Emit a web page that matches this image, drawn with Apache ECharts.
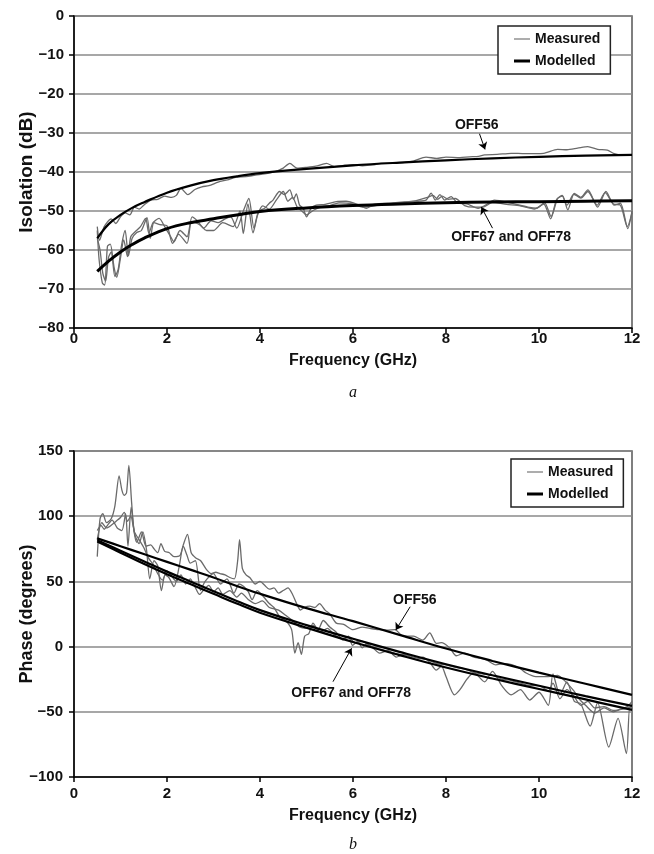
<!DOCTYPE html>
<html><head><meta charset="utf-8">
<script src="https://cdn.jsdelivr.net/npm/echarts@6/dist/echarts.min.js"></script>
<style>html,body{margin:0;padding:0;background:#fff}#c{width:654px;height:854px}</style>
</head><body><div id="c"></div>
<script>
// ---------- Data: (a) Isolation ----------
const xTicks = [0, 2, 4, 6, 8, 10, 12];

const topModF = [0.5,0.75,1,1.25,1.5,2,2.5,3,3.5,4,5,6,7,8,9,10,11,12];
const topMod56 = [-57,-53.3,-51,-49.2,-47.8,-45.3,-43.5,-42.1,-41.1,-40.3,-39.2,-38.3,-37.6,-37.0,-36.5,-36.1,-35.8,-35.6];
const topMod6778 = [-65.5,-62.8,-60.5,-58.6,-57,-54.5,-53,-52,-51,-50.1,-49.2,-48.6,-48.2,-47.9,-47.7,-47.6,-47.5,-47.4];

const topM56F = [0.5,0.55,0.65,0.8,0.9,1.0,1.1,1.2,1.3,1.4,1.5,1.65,1.8,1.95,2.1,2.2,2.3,2.45,2.6,2.75,2.9,3.1,3.3,3.5,3.7,3.9,4.1,4.3,4.5,4.64,4.8,5.0,5.2,5.43,5.6,5.8,6.0,6.2,6.43,6.6,6.8,7.07,7.3,7.57,7.8,8.0,8.3,8.5,8.7,8.83,9.1,9.4,9.7,10.1,10.4,10.6,10.83,11.05,11.26,11.47,11.6,11.8,12];
const topM56 = [-54,-57.5,-54,-52,-53.2,-51.5,-50.5,-51,-49,-49.5,-48.5,-47.2,-47,-46.2,-46.5,-46,-44.2,-45.8,-44.5,-43.8,-43.5,-42.6,-42,-41.3,-41.2,-40.8,-40.5,-40,-39,-37.8,-39,-38.8,-38.5,-37.8,-38.6,-38.3,-38.1,-38.4,-38.2,-37.8,-37.8,-37.6,-37.2,-36.2,-36.5,-36.2,-36.3,-36.1,-36,-35.6,-35.5,-35.2,-35.3,-35.2,-34.2,-34.3,-33.9,-33.5,-34.2,-34.4,-35.2,-35.6,-35.6];

const topM67F = [0.5,0.54,0.61,0.66,0.72,0.78,0.86,0.92,1.0,1.07,1.15,1.22,1.3,1.43,1.54,1.61,1.7,1.83,1.95,2.08,2.15,2.28,2.43,2.54,2.65,2.79,2.95,3.1,3.25,3.37,3.5,3.65,3.76,3.87,3.97,4.1,4.2,4.28,4.42,4.52,4.64,4.72,4.78,4.85,4.93,5.0,5.1,5.21,5.4,5.64,5.85,6.14,6.29,6.45,6.86,7.2,7.57,7.68,7.77,7.87,7.97,8.11,8.25,8.45,8.69,8.85,9.04,9.4,9.76,9.95,10.12,10.26,10.4,10.5,10.62,10.76,10.9,11.05,11.26,11.44,11.62,11.75,11.91,12];
const topM67 = [-55,-62.5,-68.5,-69,-59,-58.5,-64.3,-67,-62,-57.4,-61.7,-56.6,-55.5,-54,-51.9,-55.7,-53,-51.9,-54,-56.6,-57.9,-55,-56.6,-51.5,-52.5,-54.4,-52.5,-53,-52,-51.5,-54.4,-49.7,-46.8,-54.4,-50,-49.3,-48,-47.2,-45,-45.8,-44.6,-47,-45.6,-48.5,-49.3,-51.5,-49.3,-48.5,-48.3,-47.6,-47.5,-48.5,-49.3,-48.3,-47.9,-47.6,-47.2,-45.4,-47.2,-45.8,-47.2,-46.3,-48,-48.2,-49.3,-48.5,-47.2,-48,-49,-49.3,-47.9,-51.4,-46.8,-46,-49.7,-45.5,-46.5,-44.6,-49,-45,-48.5,-48,-54.5,-50];

const topM78F = [0.5,0.56,0.62,0.68,0.74,0.8,0.88,0.95,1.02,1.1,1.17,1.25,1.35,1.45,1.57,1.64,1.72,1.85,2.0,2.12,2.25,2.43,2.53,2.7,2.85,3.0,3.2,3.42,3.57,3.64,3.74,3.85,3.95,4.06,4.2,4.36,4.5,4.6,4.7,4.8,4.9,5.0,5.15,5.3,5.5,5.7,6.0,6.2,6.4,6.7,7.0,7.3,7.6,7.72,7.82,7.92,8.05,8.2,8.4,8.6,8.8,9.0,9.3,9.6,9.9,10.1,10.25,10.38,10.5,10.6,10.75,10.9,11.05,11.25,11.42,11.6,11.75,11.9,12];
const topM78 = [-57,-60,-66,-68,-62,-60.5,-66.8,-65,-59,-55,-61.5,-57,-55.5,-55,-51.7,-57,-53,-53.5,-53.8,-58.3,-56,-58.3,-52.7,-53.5,-55,-55,-53,-54,-50,-55.8,-48.2,-55.6,-51,-48.7,-49.5,-47,-45,-47.5,-46.5,-49,-50,-51,-49.8,-49,-48.6,-47.9,-48.2,-49,-48.8,-48.2,-47.9,-47.5,-46.5,-46,-47,-46.2,-47,-46.8,-48.6,-49,-49,-47.8,-48.3,-48.7,-49.5,-48.2,-52,-47,-46.2,-48.5,-45.7,-46.7,-45,-48.5,-45.3,-48.2,-48.5,-54,-50.5];

// ---------- Data: (b) Phase ----------
const botModF = [0.5,1,1.5,2,2.5,3,3.5,4,5,6,7,8,9,10,11,12];
const botMod56 = [83,77,71,65,59,53,46.5,40.5,29.5,19.5,9,-1.5,-11,-20,-28.5,-37];
const botMod67 = [81.5,73.5,65.5,57.5,50,42.5,35,28,16.5,6,-4,-13.5,-22,-30,-38,-45.5];
const botMod78 = [80.5,72,63.5,55.5,48,40.5,33,26,14.5,3.5,-6.5,-16,-24.5,-32.5,-40.5,-48.5];

const botM56F = [0.5,0.56,0.62,0.7,0.8,0.88,0.97,1.03,1.08,1.13,1.18,1.24,1.29,1.35,1.45,1.55,1.65,1.72,1.8,1.87,1.95,2.05,2.15,2.28,2.35,2.44,2.52,2.62,2.72,2.85,2.95,3.05,3.14,3.25,3.35,3.45,3.52,3.56,3.62,3.7,3.78,3.9,4.0,4.1,4.2,4.3,4.4,4.5,4.6,4.7,4.8,4.87,4.95,5.07,5.18,5.28,5.4,5.5,5.64,5.8,6.0,6.2,6.36,6.55,6.73,6.9,7.08,7.3,7.5,7.65,7.79,7.9,8.08,8.22,8.4,8.6,8.86,9.07,9.25,9.43,9.6,9.71,9.93,10.1,10.2,10.4,10.6,10.75,10.86,11.0,11.2,11.4,11.6,11.75,11.9,12];
const botM56 = [69,98,102,95,98,108,131,120,116,118,139,110,89,80,88,77,78,75,72,79,73,72,69,70,78,86,72,68,66,59,56,57,56,55,53,52,66,82,60,55,53,48,50,47,44,45,41,43,45,40,32,28,30,31,30,33,28,25,18,17,13,15,14,13,12.7,13,8,8,5,10.6,2.5,3,-1,-7,-5,-8,-10,-14,-13,-14,-17,-20,-23,-23,-23,-22,-28,-34,-40,-45,-51,-47,-50,-48,-46,-42];

const botM67F = [0.5,0.58,0.65,0.72,0.82,0.93,1.03,1.11,1.16,1.23,1.3,1.4,1.48,1.56,1.63,1.72,1.8,1.88,1.96,2.04,2.15,2.26,2.35,2.43,2.5,2.61,2.72,2.82,3.0,3.15,3.29,3.44,3.55,3.65,3.75,3.83,3.94,4.08,4.2,4.3,4.42,4.55,4.68,4.75,4.82,4.89,4.96,5.05,5.14,5.25,5.36,5.5,5.64,5.78,5.9,5.99,6.1,6.2,6.29,6.43,6.57,6.75,6.93,7.1,7.36,7.5,7.65,7.79,7.9,8.0,8.18,8.3,8.45,8.6,8.83,9.0,9.2,9.4,9.6,9.8,10.0,10.2,10.3,10.45,10.6,10.76,10.9,11.1,11.26,11.5,11.7,11.88,11.95,12];
const botM67 = [89,93,90,93,97,91,89,102,77,107,87,79,88,74,52,66,62,43,55,53,46,61,77,70,64,66,43,50,56,48,52,41,48,46,42,36,43,38,33,30,23,20,13,-5,3,-6,8,10,18,13,20,15,11,5,8,1,4,-1,2,-1,-5,-3,-8,-6,-10,-8,-12,-18,-15,-23,-37,-33,-25,-20,-27,-19,-30,-37,-33,-41,-35,-45,-21,-37,-27,-42,-44,-61,-43,-77,-55,-82,-47,-47];

const botM78F = [0.5,0.6,0.7,0.8,0.9,1.0,1.08,1.15,1.22,1.3,1.4,1.5,1.6,1.7,1.8,1.9,2.0,2.1,2.2,2.3,2.4,2.5,2.6,2.7,2.8,2.9,3.0,3.1,3.2,3.35,3.5,3.6,3.75,3.9,4.05,4.2,4.4,4.55,4.7,4.85,5.0,5.15,5.3,5.45,5.6,5.75,5.9,6.05,6.2,6.4,6.6,6.8,7.0,7.2,7.4,7.6,7.8,8.0,8.2,8.4,8.6,8.8,9.0,9.2,9.4,9.6,9.8,10.0,10.2,10.3,10.45,10.6,10.75,10.9,11.05,11.2,11.4,11.6,11.8,12];
const botM78 = [82,95,91,93,96,99,103,96,100,88,82,76,68,63,56,51,58,54,50,55,48,52,46,40,44,47,42,45,40,43,38,41,36,33,35,30,28,24,20,15,14,16,11,14,9,6,7,3,4,0,-2,-4,-6,-7,-9,-10,-13,-14,-16,-17,-20,-21,-22,-25,-26,-28,-30,-30,-34,-28,-40,-33,-38,-45,-42,-47,-46,-49,-48,-46];

// ---------- Annotations (data coordinates) ----------
const annotations = [
  {grid: 0, text: 'OFF56', at: [8.66, -27.9], from: [8.72, -30.2], to: [8.84, -34.2]},
  {grid: 0, text: 'OFF67 and OFF78', at: [9.40, -56.7], from: [9.0, -54.4], to: [8.76, -49.0]},
  {grid: 1, text: 'OFF56', at: [7.33, 35.7], from: [7.23, 30.6], to: [6.92, 12.7]},
  {grid: 1, text: 'OFF67 and OFF78', at: [5.96, -35.6], from: [5.57, -26.9], to: [5.97, -1.3]}
];

// ---------- Build chart ----------
const FONT = '"Liberation Sans", Arial, Helvetica, sans-serif';
const zip = (f, v) => f.map((x, i) => [x, v[i]]);
const fmt = v => (v < 0 ? '\u2212' + Math.abs(v) : String(v));

const chart = echarts.init(document.getElementById('c'), null, {renderer: 'canvas'});

function xAx(gi, labelMargin, nameGap) {
  return {
    gridIndex: gi, type: 'value', min: xTicks[0], max: xTicks[xTicks.length - 1], interval: 2,
    axisLine: {show: true, onZero: false, lineStyle: {color: '#000', width: 1.5}},
    axisTick: {show: true, length: 5, lineStyle: {color: '#000', width: 1.5}},
    axisLabel: {margin: labelMargin, fontSize: 15, fontWeight: 'bold', color: '#111', fontFamily: FONT},
    splitLine: {show: false},
    name: 'Frequency (GHz)', nameLocation: 'middle', nameGap: nameGap, nameMoveOverlap: false,
    nameTextStyle: {fontSize: 16, fontWeight: 'bold', color: '#111', fontFamily: FONT}
  };
}
function yAx(gi, min, max, interval, name, labelMargin, nameSize) {
  return {
    gridIndex: gi, type: 'value', min: min, max: max, interval: interval,
    axisLine: {show: true, onZero: false, lineStyle: {color: '#000', width: 1.5}},
    axisTick: {show: true, length: 5, lineStyle: {color: '#000', width: 1.5}},
    axisLabel: {margin: labelMargin, fontSize: 15, fontWeight: 'bold', color: '#111', fontFamily: FONT, formatter: fmt},
    splitLine: {show: true, lineStyle: {color: '#8a8a8a', width: 1.5}},
    name: name, nameLocation: 'middle', nameGap: 38, nameMoveOverlap: false,
    nameTextStyle: {fontSize: nameSize, fontWeight: 'bold', color: '#111', fontFamily: FONT}
  };
}
function meas(gi, f, v) {
  return {
    name: 'Measured', type: 'line', xAxisIndex: gi, yAxisIndex: gi, data: zip(f, v),
    symbol: 'none', showSymbol: false, smooth: 0.25, z: 2,
    lineStyle: {color: '#6a6a6a', width: 1.3}, itemStyle: {color: '#6a6a6a'}, animation: false
  };
}
function mod(gi, f, v, w, extra) {
  return Object.assign({
    name: 'Modelled', type: 'line', xAxisIndex: gi, yAxisIndex: gi, data: zip(f, v),
    symbol: 'none', showSymbol: false, smooth: 0.4, z: 4,
    lineStyle: {color: '#000', width: w}, itemStyle: {color: '#000'}, animation: false
  }, extra || {});
}
function arrows(gi) {
  return {
    markLine: {
      silent: true, animation: false, symbol: ['none', 'arrow'], symbolSize: 7,
      label: {show: false},
      lineStyle: {color: '#000', width: 1, type: 'solid'},
      data: annotations.filter(a => a.grid === gi).map(a => [{coord: a.from}, {coord: a.to}])
    }
  };
}
function legendAt(left, top) {
  return {
    left: left, top: top, orient: 'vertical',
    data: [
      {name: 'Measured', icon: 'path://M0,0h16v1.3h-16z', itemStyle: {color: '#808080', borderWidth: 0}},
      {name: 'Modelled', icon: 'path://M0,0h16v3h-16z', itemStyle: {color: '#000', borderWidth: 0}}
    ],
    symbolKeepAspect: true,
    backgroundColor: '#fff', borderColor: '#222', borderWidth: 1.5,
    padding: [6, 10, 6, 16], itemGap: 8, itemWidth: 16, itemHeight: 10,
    selectedMode: false,
    textStyle: {fontSize: 14, fontWeight: 'bold', color: '#111', fontFamily: FONT}
  };
}

chart.setOption({
  backgroundColor: '#fff',
  animation: false,
  grid: [
    {left: 74, top: 16, width: 558, height: 312, show: true, borderColor: '#555', borderWidth: 1.5, backgroundColor: 'transparent', outerBoundsMode: 'none', containLabel: false},
    {left: 74, top: 451, width: 558, height: 326, show: true, borderColor: '#555', borderWidth: 1.5, backgroundColor: 'transparent', outerBoundsMode: 'none', containLabel: false}
  ],
  xAxis: [xAx(0, 3, 25), xAx(1, 9, 31)],
  yAxis: [yAx(0, -80, 0, 10, 'Isolation (dB)', 10, 19), yAx(1, -100, 150, 50, 'Phase (degrees)', 11, 18)],
  legend: [legendAt(498, 26), legendAt(511, 459)],
  series: [
    meas(0, topM56F, topM56),
    meas(0, topM67F, topM67),
    meas(0, topM78F, topM78),
    mod(0, topModF, topMod56, 2.2, arrows(0)),
    mod(0, topModF, topMod6778, 3),
    meas(1, botM56F, botM56),
    meas(1, botM67F, botM67),
    meas(1, botM78F, botM78),
    mod(1, botModF, botMod56, 2.2, arrows(1)),
    mod(1, botModF, botMod67, 2.2),
    mod(1, botModF, botMod78, 2.2)
  ]
});

const gfx = annotations.map(a => {
  const p = chart.convertToPixel({gridIndex: a.grid}, a.at);
  return {
    type: 'text', x: p[0], y: p[1], z: 10,
    style: {text: a.text, fontSize: 14, fontWeight: 'bold', fontFamily: FONT, fill: '#111', align: 'center', verticalAlign: 'middle'}
  };
});
gfx.push({type: 'text', x: 353, y: 393, style: {text: 'a', fontSize: 16, fontStyle: 'italic', fontFamily: '"Liberation Serif", "Times New Roman", serif', fill: '#111', align: 'center', verticalAlign: 'middle'}});
gfx.push({type: 'text', x: 353, y: 845, style: {text: 'b', fontSize: 16, fontStyle: 'italic', fontFamily: '"Liberation Serif", "Times New Roman", serif', fill: '#111', align: 'center', verticalAlign: 'middle'}});
chart.setOption({graphic: gfx});
</script></body></html>
